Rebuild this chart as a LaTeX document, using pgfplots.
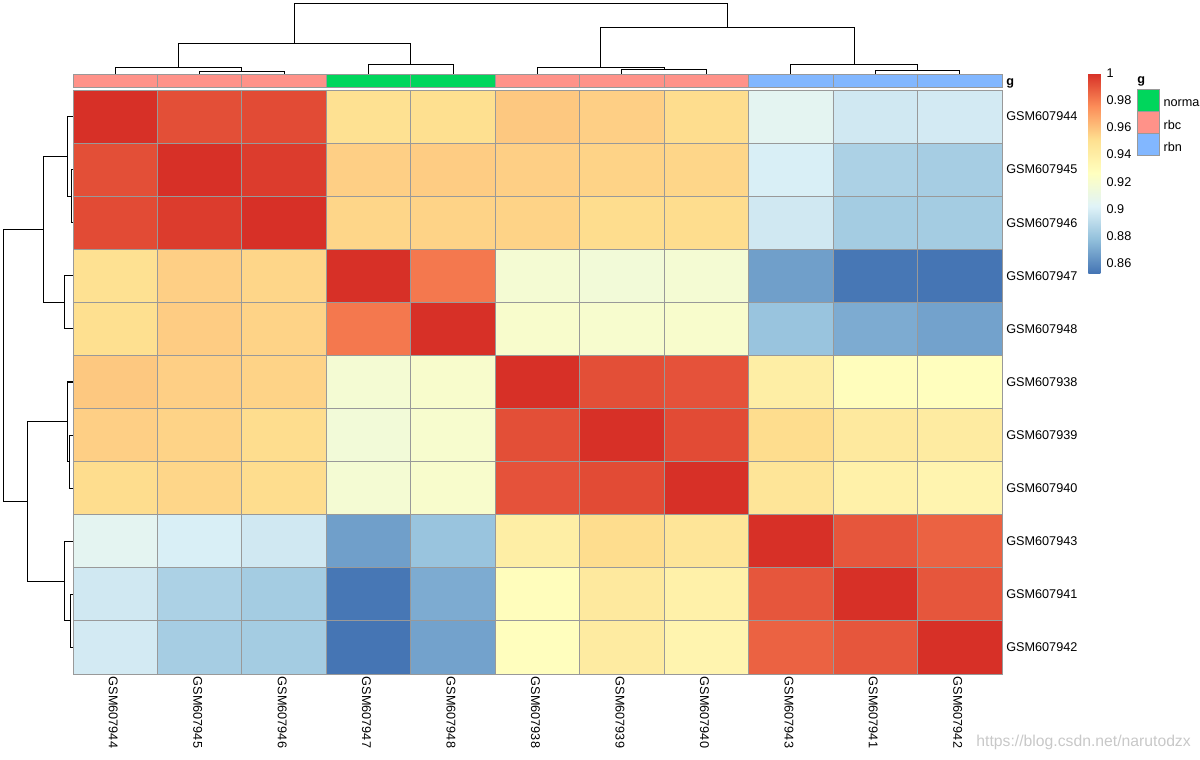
\documentclass[border=0pt]{standalone}
\usepackage{fontspec}
\setmainfont{Liberation Sans}
\usepackage{pgfplots}
\pgfplotsset{compat=1.18}

\definecolor{grey60}{RGB}{153,153,153}
\definecolor{normalc}{HTML}{00D65C}
\definecolor{rbcc}{HTML}{FF9289}
\definecolor{rbnc}{HTML}{82B7FF}
\definecolor{wmark}{RGB}{200,200,200}
\newcommand\lab{\fontsize{9.5}{11}\selectfont}

\begin{document}
\begin{tikzpicture}
% background axis in pixel units (1200 x 760), y downwards
\begin{axis}[
    at={(0pt,0pt)}, anchor=north west,
    scale only axis, width=900pt, height=570pt,
    xmin=0, xmax=1200, ymin=0, ymax=760, y dir=reverse,
    hide axis, clip=false,
    dendro/.style={black, line width=0.8pt, no marks},
    cell/.style={draw=grey60, line width=0.7pt, no marks},
]
% column dendrogram
\addplot[dendro] coordinates {(199.68,74) (199.68,71.3) (284.14,71.3) (284.14,74)};
\addplot[dendro] coordinates {(115.23,74) (115.23,67.3) (241.91,67.3) (241.91,71.3)};
\addplot[dendro] coordinates {(368.59,74) (368.59,64.3) (453.05,64.3) (453.05,74)};
\addplot[dendro] coordinates {(178.57,67.3) (178.57,43.3) (410.82,43.3) (410.82,64.3)};
\addplot[dendro] coordinates {(621.95,74) (621.95,69.3) (706.41,69.3) (706.41,74)};
\addplot[dendro] coordinates {(537.5,74) (537.5,67.3) (664.18,67.3) (664.18,69.3)};
\addplot[dendro] coordinates {(875.32,74) (875.32,70.3) (959.77,70.3) (959.77,74)};
\addplot[dendro] coordinates {(790.86,74) (790.86,64.3) (917.55,64.3) (917.55,70.3)};
\addplot[dendro] coordinates {(600.84,67.3) (600.84,27.3) (854.2,27.3) (854.2,64.3)};
\addplot[dendro] coordinates {(294.7,43.3) (294.7,3.3) (727.52,3.3) (727.52,27.3)};
% row dendrogram
\addplot[dendro] coordinates {(73,169.64) (71.3,169.64) (71.3,222.73) (73,222.73)};
\addplot[dendro] coordinates {(73,116.55) (67.3,116.55) (67.3,196.18) (71.3,196.18)};
\addplot[dendro] coordinates {(73,275.82) (64.3,275.82) (64.3,328.91) (73,328.91)};
\addplot[dendro] coordinates {(67.3,156.37) (43.3,156.37) (43.3,302.36) (64.3,302.36)};
\addplot[dendro] coordinates {(73,435.09) (69.3,435.09) (69.3,488.18) (73,488.18)};
\addplot[dendro] coordinates {(73,382) (67.3,382) (67.3,461.64) (69.3,461.64)};
\addplot[dendro] coordinates {(73,594.36) (70.3,594.36) (70.3,647.45) (73,647.45)};
\addplot[dendro] coordinates {(73,541.27) (64.3,541.27) (64.3,620.91) (70.3,620.91)};
\addplot[dendro] coordinates {(67.3,421.82) (27.3,421.82) (27.3,581.09) (64.3,581.09)};
\addplot[dendro] coordinates {(43.3,229.37) (3.3,229.37) (3.3,501.46) (27.3,501.46)};
% annotation bar
\addplot[cell, fill=rbcc] coordinates {(73,74) (157.45,74) (157.45,87.3) (73,87.3)} -- cycle;
\addplot[cell, fill=rbcc] coordinates {(157.45,74) (241.91,74) (241.91,87.3) (157.45,87.3)} -- cycle;
\addplot[cell, fill=rbcc] coordinates {(241.91,74) (326.36,74) (326.36,87.3) (241.91,87.3)} -- cycle;
\addplot[cell, fill=normalc] coordinates {(326.36,74) (410.82,74) (410.82,87.3) (326.36,87.3)} -- cycle;
\addplot[cell, fill=normalc] coordinates {(410.82,74) (495.27,74) (495.27,87.3) (410.82,87.3)} -- cycle;
\addplot[cell, fill=rbcc] coordinates {(495.27,74) (579.73,74) (579.73,87.3) (495.27,87.3)} -- cycle;
\addplot[cell, fill=rbcc] coordinates {(579.73,74) (664.18,74) (664.18,87.3) (579.73,87.3)} -- cycle;
\addplot[cell, fill=rbcc] coordinates {(664.18,74) (748.64,74) (748.64,87.3) (664.18,87.3)} -- cycle;
\addplot[cell, fill=rbnc] coordinates {(748.64,74) (833.09,74) (833.09,87.3) (748.64,87.3)} -- cycle;
\addplot[cell, fill=rbnc] coordinates {(833.09,74) (917.55,74) (917.55,87.3) (833.09,87.3)} -- cycle;
\addplot[cell, fill=rbnc] coordinates {(917.55,74) (1002,74) (1002,87.3) (917.55,87.3)} -- cycle;
\node[anchor=base west, inner sep=0pt, font=\lab\bfseries] at (1006,85) {g};
% annotation legend
\node[anchor=base west, inner sep=0pt, font=\lab\bfseries] at (1137,83.5) {g};
\addplot[cell, fill=normalc] coordinates {(1137.3,89.3) (1159.3,89.3) (1159.3,111) (1137.3,111)} -- cycle;
\addplot[cell, fill=rbcc] coordinates {(1137.3,111) (1159.3,111) (1159.3,133.3) (1137.3,133.3)} -- cycle;
\addplot[cell, fill=rbnc] coordinates {(1137.3,133.3) (1159.3,133.3) (1159.3,155.7) (1137.3,155.7)} -- cycle;
\node[anchor=west, inner sep=0pt, font=\lab] at (1163.3,102) {normal};
\node[anchor=west, inner sep=0pt, font=\lab] at (1163.3,124.5) {rbc};
\node[anchor=west, inner sep=0pt, font=\lab] at (1163.3,147) {rbn};
% watermark
\node[anchor=east, inner sep=0pt, text=wmark, font=\fontsize{11.8}{13}\selectfont] at (1191,742.7) {https://blog.csdn.net/narutodzx};
\end{axis}

% heatmap
\begin{axis}[
    at={(54.75pt,-67.5pt)}, anchor=north west,
    scale only axis, width=696.75pt, height=438pt,
    xmin=0.5, xmax=11.5, ymin=0.5, ymax=11.5,
    axis on top,
    axis line style={grey60, line width=0.7pt},
    xtick={1,...,11}, ytick={1,...,11},
    xticklabels={GSM607944,GSM607945,GSM607946,GSM607947,GSM607948,GSM607938,GSM607939,GSM607940,GSM607943,GSM607941,GSM607942},
    yticklabels={GSM607942,GSM607941,GSM607943,GSM607940,GSM607939,GSM607938,GSM607948,GSM607947,GSM607946,GSM607945,GSM607944},
    major tick length=0pt, minor tick length=0pt,
    minor xtick={1.5,2.5,...,10.5}, minor ytick={1.5,2.5,...,10.5},
    xminorgrids, yminorgrids,
    minor grid style={grey60, line width=0.7pt},
    yticklabel pos=right,
    xticklabel style={rotate=-90, anchor=west, font=\lab, inner sep=2pt, yshift=-1.5pt},
    yticklabel style={anchor=west, font=\lab, inner sep=2pt, xshift=1pt},
    colormap={rdylbu}{rgb255=(69,117,180) rgb255=(145,191,219) rgb255=(224,243,248) rgb255=(255,255,191) rgb255=(254,224,144) rgb255=(252,141,89) rgb255=(215,48,39)},
    point meta min=0.853, point meta max=1,
    colorbar,
    colorbar style={
        at={(parent axis.north east)}, anchor=north west,
        xshift=56.25pt, yshift=12.75pt,
        scale only axis, width=9pt, height=150pt,
        ytick={0.86,0.88,0.9,0.92,0.94,0.96,0.98,1},
        yticklabels={0.86,0.88,0.9,0.92,0.94,0.96,0.98,1},
        major tick length=0pt,
        axis line style={draw=none},
        yticklabel style={font=\lab, inner sep=2pt, xshift=2.5pt},
    },
]
\addplot[matrix plot*, mesh/cols=11, point meta=explicit] table[meta=c] {
x y c
1 11 1.000
2 11 0.992
3 11 0.993
4 11 0.950
5 11 0.951
6 11 0.958
7 11 0.956
8 11 0.952
9 11 0.905
10 11 0.897
11 11 0.898
1 10 0.992
2 10 1.000
3 10 0.997
4 10 0.956
5 10 0.957
6 10 0.956
7 10 0.955
8 10 0.954
9 10 0.900
10 10 0.886
11 10 0.884
1 9 0.993
2 9 0.997
3 9 1.000
4 9 0.954
5 9 0.955
6 9 0.955
7 9 0.952
8 9 0.952
9 9 0.897
10 9 0.8835
11 9 0.8835
1 8 0.950
2 8 0.956
3 8 0.954
4 8 1.000
5 8 0.981
6 8 0.918
7 8 0.916
8 8 0.918
9 8 0.867
10 8 0.8535
11 8 0.853
1 7 0.951
2 7 0.957
3 7 0.955
4 7 0.981
5 7 1.000
6 7 0.921
7 7 0.920
8 7 0.921
9 7 0.880
10 7 0.871
11 7 0.868
1 6 0.958
2 6 0.956
3 6 0.955
4 6 0.918
5 6 0.921
6 6 1.000
7 6 0.992
8 6 0.991
9 6 0.940
10 6 0.928
11 6 0.927
1 5 0.956
2 5 0.955
3 5 0.952
4 5 0.916
5 5 0.920
6 5 0.992
7 5 1.000
8 5 0.993
9 5 0.952
10 5 0.944
11 5 0.942
1 4 0.952
2 4 0.954
3 4 0.952
4 4 0.918
5 4 0.921
6 4 0.991
7 4 0.993
8 4 1.000
9 4 0.947
10 4 0.938
11 4 0.935
1 3 0.905
2 3 0.900
3 3 0.897
4 3 0.867
5 3 0.880
6 3 0.940
7 3 0.952
8 3 0.947
9 3 1.000
10 3 0.990
11 3 0.987
1 2 0.897
2 2 0.886
3 2 0.8835
4 2 0.8535
5 2 0.871
6 2 0.928
7 2 0.944
8 2 0.938
9 2 0.990
10 2 1.000
11 2 0.990
1 1 0.898
2 1 0.884
3 1 0.8835
4 1 0.853
5 1 0.868
6 1 0.927
7 1 0.942
8 1 0.935
9 1 0.987
10 1 0.990
11 1 1.000
};
\end{axis}
\pgfresetboundingbox
\useasboundingbox (0pt,0pt) rectangle (900pt,-570pt);
\end{tikzpicture}
\end{document}
